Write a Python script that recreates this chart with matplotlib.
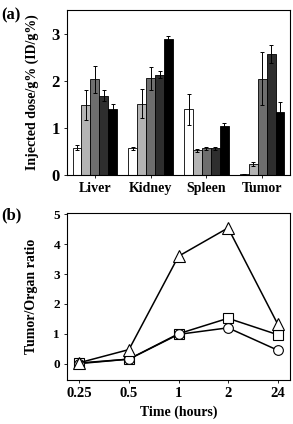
import numpy as np
import matplotlib.pyplot as plt

plt.rcParams['font.family'] = ['Liberation Serif', 'DejaVu Serif']
plt.rcParams['font.weight'] = 'bold'

organs = ["Liver", "Kidney", "Spleen", "Tumor"]
liver = [0.58, 1.48, 2.03, 1.68, 1.40]
liver_err = [0.06, 0.32, 0.29, 0.12, 0.10]
kidney = [0.57, 1.51, 2.05, 2.13, 2.88]
kidney_err = [0.03, 0.31, 0.24, 0.07, 0.07]
spleen = [1.39, 0.52, 0.57, 0.57, 1.03]
spleen_err = [0.32, 0.03, 0.03, 0.03, 0.07]
tumor = [0.02, 0.23, 2.04, 2.57, 1.34]
tumor_err = [0.01, 0.04, 0.56, 0.19, 0.21]
bar_colors = ["white", "#b4b4b4", "#6e6e6e", "#2e2e2e", "black"]

times = ["0.25", "0.5", "1", "2", "24"]
ratio_triangle = [0.03, 0.47, 3.60, 4.55, 1.33]
ratio_square = [0.02, 0.15, 1.00, 1.52, 0.97]
ratio_circle = [0.00, 0.15, 0.98, 1.20, 0.45]

fig = plt.figure(figsize=(2.93, 4.24), dpi=100)
ax1 = fig.add_axes([67 / 293, 1 - 175 / 424, 223 / 293, 165 / 424])
ax2 = fig.add_axes([67 / 293, 1 - 380 / 424, 223 / 293, 167 / 424])

# panel (a)
data = np.array([liver, kidney, spleen, tumor])
errs = np.array([liver_err, kidney_err, spleen_err, tumor_err])
x = np.arange(len(organs))
w = 0.16
for i in range(5):
    ax1.bar(x + (i - 2) * w, data[:, i], w, yerr=errs[:, i], color=bar_colors[i],
            edgecolor="black", linewidth=0.6, capsize=1.5,
            error_kw=dict(elinewidth=0.7, capthick=0.7, ecolor="black"))
ax1.set_xlim(-0.5, 3.5)
ax1.set_ylim(0, 3.5)
ax1.set_xticks(x)
ax1.set_xticklabels(organs, fontsize=10, fontweight="bold")
ax1.set_yticks([0, 1, 2, 3])
ax1.set_yticklabels(["0", "1", "2", "3"], fontsize=12, fontweight="bold")
ax1.set_ylabel("Injected dose/g% (ID/g%)", fontsize=10, fontweight="bold", labelpad=9)
ax1.tick_params(length=2, width=0.6, pad=3)
fig.text(0.005, 1 - 15 / 424, "(a)", fontsize=12, fontweight="bold", va="center")

# panel (b)
xt = np.arange(len(times))
line_kw = dict(color="black", linewidth=1.1, markerfacecolor="white",
               markeredgecolor="black", markeredgewidth=0.8)
ax2.plot(xt, ratio_square, marker="s", markersize=6.5, **line_kw)
ax2.plot(xt, ratio_circle, marker="o", markersize=7, **line_kw)
ax2.plot(xt, ratio_triangle, marker="^", markersize=8.5, **line_kw)
ax2.set_xlim(-0.25, 4.25)
ax2.set_ylim(-0.55, 5.05)
ax2.set_xticks(xt)
ax2.set_xticklabels(times, fontsize=10.5, fontweight="bold")
ax2.set_yticks([0, 1, 2, 3, 4, 5])
ax2.set_yticklabels(["0", "1", "2", "3", "4", "5"], fontsize=9.5, fontweight="bold")
ax2.set_xlabel("Time (hours)", fontsize=10, fontweight="bold", labelpad=4)
ax2.set_ylabel("Tumor/Organ ratio", fontsize=10, fontweight="bold", labelpad=11)
ax2.tick_params(length=2, width=0.6, pad=3)
fig.text(0.005, 1 - 215 / 424, "(b)", fontsize=12, fontweight="bold", va="center")

for ax in (ax1, ax2):
    for s in ax.spines.values():
        s.set_linewidth(0.8)

fig.savefig("out.png", dpi=100)
